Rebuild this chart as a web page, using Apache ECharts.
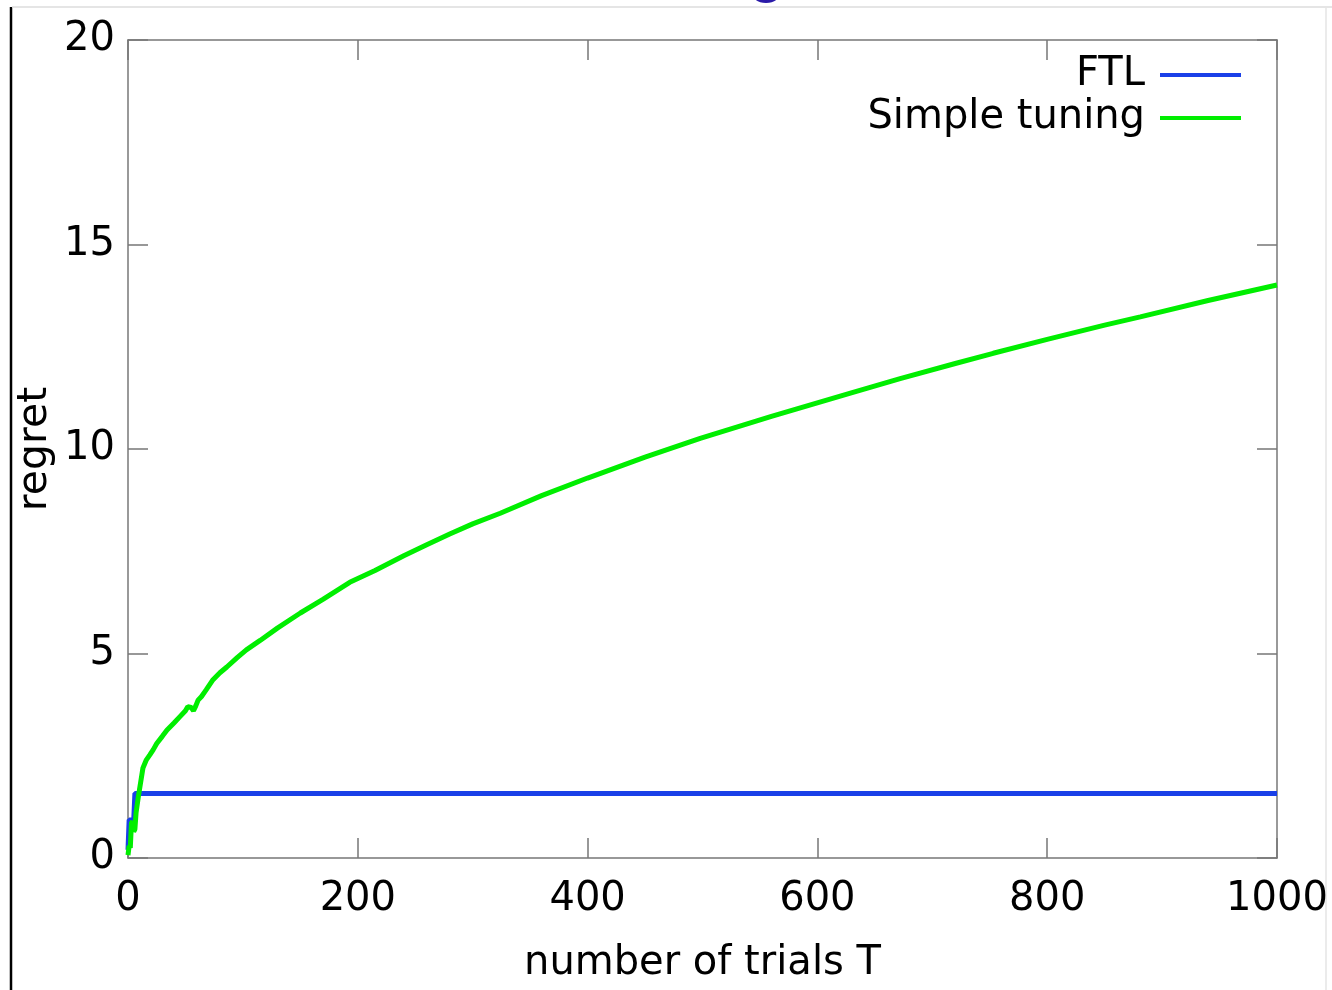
<!DOCTYPE html>
<html>
<head>
<meta charset="utf-8">
<script src="https://cdn.jsdelivr.net/npm/echarts@6/dist/echarts.min.js"></script>
<style>
  html, body { margin: 0; padding: 0; background: #fff; }
  #chart { width: 1332px; height: 990px; }
</style>
</head>
<body>
<div id="chart"></div>
<script>
// ---- data ----
const seriesNames = ['FTL', 'Simple tuning'];
const xTicks = [0, 200, 400, 600, 800, 1000];
const yTicks = [0, 5, 10, 15, 20];

const ftlT = [0, 1, 5, 6, 1000];
const ftlRegret = [0.2, 0.93, 0.93, 1.58, 1.58];

const tuneT = [0, 1, 2, 3, 4, 5, 6, 7, 9, 11, 13, 16, 19, 22, 25, 30, 34, 40, 45, 50, 52, 55, 57, 59, 61, 64, 68, 74, 80, 86, 95, 103, 115, 130, 150, 170, 193, 215, 240, 260, 280, 300, 324, 360, 400, 450, 498, 560, 628, 672, 720, 753, 800, 850, 881, 940, 1000];
const tuneRegret = [0.07, 0.3, 0.25, 0.85, 0.9, 0.65, 0.7, 1.1, 1.5, 1.85, 2.2, 2.4, 2.52, 2.65, 2.8, 2.98, 3.13, 3.3, 3.45, 3.6, 3.7, 3.68, 3.6, 3.72, 3.86, 3.95, 4.11, 4.36, 4.53, 4.67, 4.9, 5.09, 5.32, 5.62, 5.99, 6.33, 6.74, 7.03, 7.39, 7.66, 7.92, 8.17, 8.43, 8.86, 9.29, 9.8, 10.26, 10.8, 11.36, 11.72, 12.09, 12.34, 12.68, 13.03, 13.23, 13.63, 14.01];

// ---- chart ----
const FONT = 'DejaVu Sans';
const AXIS_COLOR = '#777';
const zip = (a, b) => a.map((v, i) => [v, b[i]]);

const chart = echarts.init(document.getElementById('chart'), null, { renderer: 'canvas' });

const xMin = xTicks[0], xMax = xTicks[xTicks.length - 1];
const yMin = yTicks[0], yMax = yTicks[yTicks.length - 1];
const xInt = xTicks[1] - xTicks[0], yInt = yTicks[1] - yTicks[0];

const boxAxisLine = { show: true, onZero: false, lineStyle: { color: AXIS_COLOR, width: 1.5 } };
const boxTick = { show: true, inside: true, length: 20, lineStyle: { color: AXIS_COLOR, width: 1.5 } };

chart.setOption({
  animation: false,
  backgroundColor: '#fff',
  textStyle: { fontFamily: FONT },
  grid: { left: 128, right: 55, top: 40, bottom: 132, containLabel: false, outerBoundsMode: 'none' },
  legend: {
    data: seriesNames,
    orient: 'vertical',
    right: 86,
    top: 50,
    align: 'right',
    itemGap: 3,
    itemWidth: 81,
    itemHeight: 4,
    icon: 'rect',
    textStyle: { fontFamily: FONT, fontSize: 40, color: '#000', padding: [0, 10, 0, 0] }
  },
  xAxis: [
    {
      type: 'value', position: 'bottom', min: xMin, max: xMax, interval: xInt,
      name: 'number of trials T', nameLocation: 'middle', nameGap: 86, nameMoveOverlap: false,
      nameTextStyle: { fontFamily: FONT, fontSize: 40, color: '#000' },
      axisLine: boxAxisLine, axisTick: boxTick, splitLine: { show: false },
      axisLabel: { fontFamily: FONT, fontSize: 40, color: '#000', margin: 22, formatter: v => String(v) }
    },
    {
      type: 'value', position: 'top', min: xMin, max: xMax, interval: xInt,
      axisLine: boxAxisLine, axisTick: boxTick, splitLine: { show: false },
      axisLabel: { show: false }
    }
  ],
  yAxis: [
    {
      type: 'value', position: 'left', min: yMin, max: yMax, interval: yInt,
      name: 'regret', nameLocation: 'middle', nameGap: 72, nameMoveOverlap: false,
      nameTextStyle: { fontFamily: FONT, fontSize: 41, color: '#000' },
      axisLine: boxAxisLine, axisTick: boxTick, splitLine: { show: false },
      axisLabel: { fontFamily: FONT, fontSize: 40, color: '#000', margin: 13, formatter: v => String(v) }
    },
    {
      type: 'value', position: 'right', min: yMin, max: yMax, interval: yInt,
      axisLine: boxAxisLine, axisTick: boxTick, splitLine: { show: false },
      axisLabel: { show: false }
    }
  ],
  series: [
    {
      name: seriesNames[0], type: 'line', xAxisIndex: 0, yAxisIndex: 0,
      data: zip(ftlT, ftlRegret), symbol: 'none', smooth: false,
      itemStyle: { color: '#1a40e8' },
      lineStyle: { color: '#1a40e8', width: 5 }
    },
    {
      name: seriesNames[1], type: 'line', xAxisIndex: 0, yAxisIndex: 0,
      data: zip(tuneT, tuneRegret), symbol: 'none', smooth: false,
      itemStyle: { color: '#00ee00' },
      lineStyle: { color: '#00ee00', width: 5 }
    }
  ],
  graphic: [
    { type: 'line', silent: true, shape: { x1: 11, y1: 7, x2: 11, y2: 990 }, style: { stroke: '#000', lineWidth: 2.5 } },
    { type: 'line', silent: true, shape: { x1: 12, y1: 7, x2: 1332, y2: 7 }, style: { stroke: '#dcdcdc', lineWidth: 1.5 } },
    { type: 'line', silent: true, shape: { x1: 1326, y1: 7, x2: 1326, y2: 990 }, style: { stroke: '#e4e4e4', lineWidth: 1.5 } },
    { type: 'ellipse', silent: true, shape: { cx: 766, cy: -5, rx: 13, ry: 8 }, style: { fill: '#2a1aa8' } }
  ]
});
</script>
</body>
</html>
